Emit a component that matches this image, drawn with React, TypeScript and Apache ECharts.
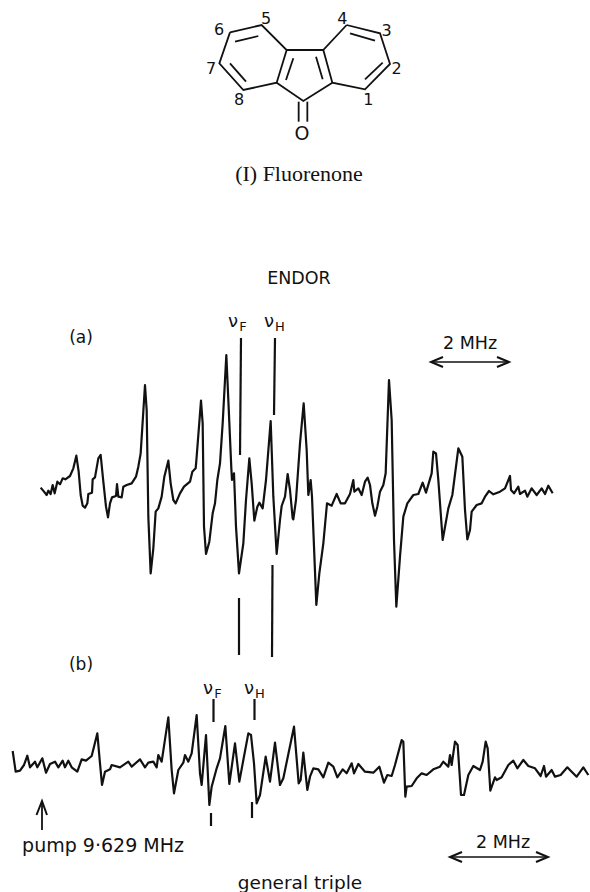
import React, { useEffect, useRef } from "react";
import * as echarts from "echarts";

// Readings of the traces, as [x, y] pairs on a fine reading scale (3 units per page pixel)
const traceALeft = [[32,443],[42,455],[50,465],[55,452],[62,462],[68,435],[74,460],[82,425],[90,433],[98,415],[106,418],[120,408],[130,385],[139,347],[146,395],[152,465],[158,497],[165,503],[172,490],[175,462],[186,458],[188,418],[195,412],[205,355],[212,345],[220,425],[228,500],[234,532],[240,490],[246,472],[258,468],[261,432],[265,470],[275,472],[280,440],[290,435],[305,430],[318,410],[325,380],[332,340],[345,135],[350,210],[355,530],[362,700],[370,625],[377,515],[385,505],[395,470],[403,410],[415,362],[422,430],[430,480],[437,490],[450,460],[462,440],[480,425],[487,395],[497,385],[500,350],[513,182],[518,250],[522,560],[528,642],[538,605],[548,520],[555,490],[562,420],[570,370],[578,250],[589,45],[595,180],[604,385],[606,420],[612,400],[618,560],[627,700],[640,610],[648,480],[658,355],[665,430],[673,542],[682,500],[688,488],[698,505],[708,420],[722,243],[730,470],[740,642],[750,540],[755,498],[765,470],[773,402],[780,450],[788,535]];
const traceARight = [[10,538],[18,480],[30,310],[41,190],[50,330],[55,465],[62,420],[66,470],[72,620],[79,795],[88,700],[100,610],[111,490],[125,497],[140,462],[152,490],[165,490],[180,462],[190,420],[193,455],[205,445],[215,465],[225,425],[233,413],[240,435],[247,490],[255,527],[262,500],[270,455],[280,435],[287,400],[297,120],[305,240],[312,600],[319,800],[330,650],[340,530],[352,490],[370,465],[385,462],[398,428],[408,458],[425,400],[430,335],[438,340],[445,420],[458,600],[475,505],[487,465],[505,325],[517,350],[525,510],[532,598],[540,570],[545,515],[560,495],[575,490],[585,470],[597,453],[610,463],[630,455],[645,445],[660,408],[663,450],[672,460],[685,440],[690,462],[705,452],[712,470],[725,445],[740,465],[755,445],[765,462],[775,437],[788,460]];
const traceBLeft = [[38,183],[47,245],[60,242],[72,225],[82,197],[90,232],[105,215],[112,232],[127,205],[138,248],[150,222],[165,215],[175,232],[188,212],[195,232],[205,212],[215,232],[232,245],[245,208],[258,212],[275,198],[282,170],[292,130],[300,220],[306,285],[315,245],[330,238],[335,225],[360,232],[385,215],[395,230],[420,208],[435,232],[445,218],[460,215],[470,232],[475,195],[485,215],[505,82],[515,240],[522,310],[535,240],[550,218],[555,195],[565,215],[575,190],[590,75],[600,250],[605,285],[618,135],[628,345],[635,290],[650,235],[660,205],[676,108],[688,282],[705,160],[718,275],[730,210],[745,130],[753,135],[762,220],[770,340],[780,315],[797,200],[810,275],[825,158],[840,285],[850,265],[882,110]];
const traceBRight = [[26,280],[32,270],[40,188],[52,300],[60,260],[70,235],[85,238],[100,262],[115,218],[130,230],[142,262],[158,238],[170,250],[185,220],[192,250],[205,222],[225,245],[250,248],[268,230],[282,278],[292,255],[305,258],[315,225],[335,150],[340,155],[346,320],[350,290],[365,288],[380,265],[395,250],[410,255],[430,238],[450,230],[460,215],[475,230],[480,195],[485,225],[495,155],[503,165],[513,315],[522,315],[535,255],[550,228],[570,240],[578,215],[587,155],[593,175],[601,302],[615,262],[620,270],[635,262],[655,225],[670,212],[682,235],[700,210],[715,228],[735,235],[752,258],[762,228],[768,260],[785,240],[795,260],[812,255],[832,232],[845,245],[860,260],[880,232],[895,255]];

const toPage = (rows: number[][], ox: number, oy: number) => rows.map(([x, y]) => [ox + x / 3, oy + y / 3]);
const traceA = [...toPage(traceALeft, 30, 340), ...toPage(traceARight, 290, 340)];
const traceB = [...toPage(traceBLeft, 0, 690), ...toPage(traceBRight, 290, 690)];

// Resonance markers: [x1, y1, x2, y2]
const markers = [
  [241, 338, 240, 455], [275, 338, 274, 415],
  [239, 598, 239, 655], [272.5, 565, 272, 657],
  [213.5, 699, 213.5, 722], [254.5, 699, 254.5, 720],
  [211, 813, 211, 826], [252, 802, 252, 818],
];

// Molecule, reading scale
const bonds: number[][][] = [
  [[150,97],[245,75],[320,150],[290,248],[190,270],[118,190],[150,97]],
  [[500,75],[600,100],[630,192],[555,268],[457,248],[430,150],[500,75]],
  [[320,150],[430,150]], [[457,248],[370,303],[290,248]],
  [[165,125],[235,108]], [[150,190],[198,245]], [[340,175],[318,240]], [[408,170],[428,238]],
  [[510,100],[585,122]], [[608,188],[555,238]], [[356,305],[356,365]], [[382,305],[382,365]],
];
const atoms: [string, number, number, number][] = [
  ["5",258,55,16],["6",117,88,16],["7",93,205,16],["8",177,297,16],["4",487,55,16],["3",620,90,16],["2",650,205,16],["1",565,298,16],["O",366,400,19],
];

const sans = "'DejaVu Sans'";
const black = "#111";

const label = (text: string, x: number, y: number, fontSize: number, fontFamily = sans) => ({
  type: "text", x, y,
  style: { text, fontSize, fontFamily, fill: black, align: "center", verticalAlign: "middle" },
});
const seg = (x1: number, y1: number, x2: number, y2: number, lineWidth = 1.6) => ({
  type: "line", shape: { x1, y1, x2, y2 }, style: { stroke: black, lineWidth },
});
const dblArrow = (x1: number, x2: number, y: number) => [
  seg(x1, y, x2, y),
  { type: "polyline", shape: { points: [[x1 + 12, y - 5], [x1, y], [x1 + 12, y + 5]] }, style: { stroke: black, lineWidth: 2, fill: "none" } },
  { type: "polyline", shape: { points: [[x2 - 12, y - 5], [x2, y], [x2 - 12, y + 5]] }, style: { stroke: black, lineWidth: 2, fill: "none" } },
];

export default function App() {
  const ref = useRef<HTMLDivElement>(null);
  useEffect(() => {
    const chart = echarts.init(ref.current!, undefined, { renderer: "svg" });
    const traceSeries = (data: number[][]) => ({
      type: "line", data, showSymbol: false, smooth: false, silent: true,
      lineStyle: { color: black, width: 2.2, join: "round" },
    });
    chart.setOption({
      animation: false,
      backgroundColor: "#fff",
      grid: { left: 0, right: 0, top: 0, bottom: 0 },
      xAxis: { type: "value", min: 0, max: 590, show: false },
      yAxis: { type: "value", min: 0, max: 892, inverse: true, show: false },
      series: [
        traceSeries(traceA),
        traceSeries(traceB),
        ...markers.map(([x1, y1, x2, y2]) => ({
          type: "line", data: [[x1, y1], [x2, y2]], showSymbol: false, silent: true,
          lineStyle: { color: black, width: 2.2 },
        })),
      ],
      graphic: [
        ...bonds.map((pts) => ({
          type: "polyline",
          shape: { points: pts.map(([x, y]) => [180 + x / 3, y / 3]) },
          style: { stroke: black, lineWidth: 1.8, fill: "none" },
        })),
        ...atoms.map(([t, x, y, s]) => label(t, 180 + x / 3, y / 3, s)),
        label("(I) Fluorenone", 299, 173, 22, "'Liberation Serif'"),
        label("ENDOR", 299, 278, 17.5),
        label("(a)", 81, 337, 17),
        label("(b)", 81, 664, 17),
        label("ν", 233, 320, 18), label("F", 243, 326, 13),
        label("ν", 269, 320, 18), label("H", 280, 326, 13),
        label("ν", 208, 687, 18), label("F", 218, 693, 13),
        label("ν", 249, 687, 18), label("H", 260, 693, 13),
        label("2 MHz", 470, 343, 17.5),
        ...dblArrow(431, 509, 362),
        label("2 MHz", 503, 842, 17.5),
        ...dblArrow(450, 548, 857),
        seg(42, 802, 42, 830, 1.8),
        { type: "polyline", shape: { points: [[36.5, 815], [42, 801], [47, 815]] }, style: { stroke: black, lineWidth: 2, fill: "none" } },
        label("pump 9·629 MHz", 103, 845, 19),
        label("general triple", 300, 882, 18.5),
      ],
    });
    return () => chart.dispose();
  }, []);
  return <div ref={ref} style={{ position: "absolute", left: 0, top: 0, width: 590, height: 892 }} />;
}
